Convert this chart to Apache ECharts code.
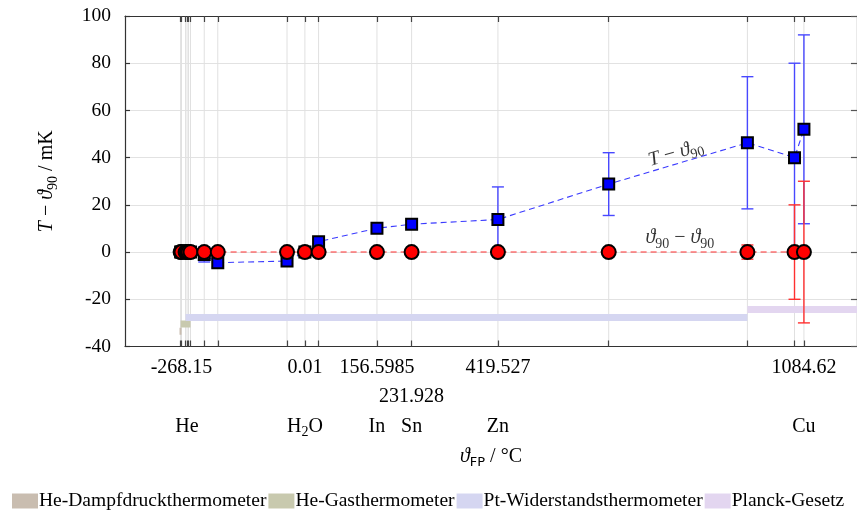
<!DOCTYPE html>
<html>
<head>
<meta charset="utf-8">
<script src="https://cdn.jsdelivr.net/npm/echarts@6/dist/echarts.min.js"></script>
<style>html,body{margin:0;padding:0;background:#fff}#c{width:857px;height:510px}</style>
</head>
<body>
<div id="c"></div>
<script>
// Fixed points (°C)
const fixedPoints = [-270.15, -268.15, -259.3467, -256.15, -252.85, -248.5939, -218.7916, -189.3442, -38.8344, 0.01, 29.7646, 156.5985, 231.928, 419.527, 660.323, 961.78, 1064.18, 1084.62];
// T - theta90 (mK) and uncertainty
const tDiff    = [0, 0, 0, 0, 0, 0, -1.0, -4.5, -3.8, 0, 4.4, 10.1, 11.8, 13.8, 28.8, 46.3, 40.0, 52.0];
const tDiffErr = [0.3, 0.3, 0.2, 0.3, 0.3, 0.5, 3.2, 2.0, 1.0, 0, 1.0, 1.2, 1.5, 13.8, 13.3, 28.0, 40.0, 40.0];
// theta90 - theta90 (mK) and uncertainty
const refDiff    = [0, 0, 0, 0, 0, 0, 0, 0, 0, 0, 0, 0, 0, 0, 0, 0, 0, 0];
const refErr     = [0, 0, 0, 0, 0, 0, 0, 0, 0, 0, 0, 0, 0, 0, 0, 3.0, 20.0, 30.0];
// tick labels
const row1Ticks = [-268.15, 0.01, 156.5985, 419.527, 1084.62];
const row1Text  = ['-268.15', '0.01', '156.5985', '419.527', '1084.62'];
const row2Ticks = [231.928];
const row2Text  = ['231.928'];
const elemPos   = [-256.2, 0.01, 156.5985, 231.928, 419.527, 1084.62];
const elemText  = ['{r|He}', '{r|H}{sub|2}{r|O}', '{r|In}', '{r|Sn}', '{r|Zn}', '{r|Cu}'];
// thermometer ranges
const bandNames = ['He-Dampfdruckthermometer', 'He-Gasthermometer', 'Pt-Widerstandsthermometer', 'Planck-Gesetz'];
const bandStart = [-272.5, -270.15, -259.3467, 961.78];
const bandEnd   = [-268.15, -248.5939, 961.78, 1200];
const bandLevel = [-33.5, -30.5, -27.7, -24.3];
const bandColors = ['#c9bdb0', '#c8c9ae', '#d5d6f1', '#e3d6f0'];
// annotations
const annotX = [808, 815];
const annotY = [40.7, 4.7];

const FONT = 'Liberation Serif';
const X_MIN = -391, X_MAX = 1200;

function lookup(vals, texts, v) {
  let best = 0, bd = Infinity;
  vals.forEach((x, i) => { const d = Math.abs(x - v); if (d < bd) { bd = d; best = i; } });
  return texts[best];
}

function errorBars(values, errs, color) {
  return {
    type: 'custom',
    silent: true,
    data: fixedPoints.map((x, i) => [x, values[i], errs[i]]),
    renderItem: function (params, api) {
      const x = api.value(0), y = api.value(1), e = api.value(2);
      if (!e) return null;
      const top = api.coord([x, y + e]);
      const bot = api.coord([x, y - e]);
      const hw = 6;
      const st = { stroke: color, lineWidth: 1.4 };
      return {
        type: 'group',
        children: [
          { type: 'line', shape: { x1: top[0], y1: top[1], x2: bot[0], y2: bot[1] }, style: st },
          { type: 'line', shape: { x1: top[0] - hw, y1: top[1], x2: top[0] + hw, y2: top[1] }, style: st },
          { type: 'line', shape: { x1: bot[0] - hw, y1: bot[1], x2: bot[0] + hw, y2: bot[1] }, style: st }
        ]
      };
    }
  };
}

const richBase = {
  r: { fontFamily: FONT, fontSize: 20, color: '#000', padding: [0, 0, 6, 0] },
  i: { fontFamily: FONT, fontSize: 20, fontStyle: 'italic', color: '#000', padding: [0, 0, 6, 0] },
  sub: { fontFamily: FONT, fontSize: 14, color: '#000', padding: [6, 0, 0, 0] },
  subsf: { fontFamily: 'DejaVu Sans', fontSize: 13, color: '#000', padding: [6, 0, 0, 0] }
};

const chart = echarts.init(document.getElementById('c'), null, { renderer: 'canvas' });

const series = [];
// vertical grid lines at fixed points
series.push({
  type: 'custom', silent: true, z: 0,
  data: fixedPoints.map(x => [x]),
  renderItem: function (params, api) {
    const p1 = api.coord([api.value(0), 100]);
    const p2 = api.coord([api.value(0), -40]);
    return { type: 'line', shape: { x1: p1[0], y1: p1[1], x2: p2[0], y2: p2[1] }, style: { stroke: '#e0e0e0', lineWidth: 1 } };
  }
});
// bands
bandNames.forEach((n, i) => {
  series.push({
    name: n, type: 'line', silent: true, z: 1,
    symbol: 'none',
    data: [[bandStart[i], bandLevel[i]], [bandEnd[i], bandLevel[i]]],
    lineStyle: { color: bandColors[i], width: 7, cap: 'butt' },
    itemStyle: { color: bandColors[i] }
  });
});
// blue line
series.push({
  name: 'T', type: 'line', z: 3,
  data: fixedPoints.map((x, i) => [x, tDiff[i]]),
  symbol: 'none',
  lineStyle: { color: '#3a3aff', width: 1.1, type: [6, 4] }
});
series.push(Object.assign(errorBars(tDiff, tDiffErr, '#4848ff'), { z: 4 }));
series.push({
  type: 'scatter', z: 5,
  data: fixedPoints.map((x, i) => [x, tDiff[i]]),
  symbol: 'rect', symbolSize: 11,
  itemStyle: { color: '#0000ff', borderColor: '#000', borderWidth: 2, opacity: 1 }
});
// red line
series.push({
  type: 'line', z: 6,
  data: fixedPoints.map((x, i) => [x, refDiff[i]]),
  symbol: 'none',
  lineStyle: { color: '#ff3030', width: 1.1, type: [6, 4] }
});
series.push(Object.assign(errorBars(refDiff, refErr, '#ff3030'), { z: 7 }));
series.push({
  type: 'scatter', z: 8,
  data: fixedPoints.map((x, i) => [x, refDiff[i]]),
  symbol: 'circle', symbolSize: 14,
  itemStyle: { color: '#ff0000', borderColor: '#000', borderWidth: 2, opacity: 1 }
});
// annotations
series.push({
  type: 'scatter', z: 9, silent: true,
  data: [[annotX[0], annotY[0]]],
  symbolSize: 0,
  label: { show: true, position: 'inside', rotate: 16, formatter: '{i|T}{r| − }{i|ϑ}{sub|90}', rich: richBase }
});
series.push({
  type: 'scatter', z: 9, silent: true,
  data: [[annotX[1], annotY[1]]],
  symbolSize: 0,
  label: { show: true, position: 'inside', formatter: '{i|ϑ}{sub|90}{r| − }{i|ϑ}{sub|90}', rich: richBase }
});

const tickStyle = { show: true, inside: true, length: 6, lineStyle: { color: '#444', width: 1.2 } };

const option = {
  animation: false,
  backgroundColor: '#fff',
  grid: { left: 125, right: 0, top: 16, bottom: 163.5, containLabel: false },
  legend: {
    data: bandNames.map(n => ({ name: n, icon: 'rect' })),
    left: 7, top: 486,
    itemWidth: 26, itemHeight: 15, itemGap: 2,
    textStyle: { fontFamily: FONT, fontSize: 19.5, color: '#000', padding: [0, 0, 0, -4] },
    selectedMode: false
  },
  xAxis: [
    {
      type: 'value', position: 'bottom', min: X_MIN, max: X_MAX,
      axisLine: { show: true, onZero: false, lineStyle: { color: '#333', width: 1.2 } },
      axisTick: Object.assign({ customValues: fixedPoints }, tickStyle),
      axisLabel: {
        customValues: row1Ticks, margin: 11,
        fontFamily: FONT, fontSize: 20, color: '#000',
        formatter: v => lookup(row1Ticks, row1Text, v)
      },
      splitLine: { show: false }
    },
    {
      type: 'value', position: 'bottom', min: X_MIN, max: X_MAX,
      axisLine: { show: false }, axisTick: { show: false },
      axisLabel: {
        customValues: row2Ticks, margin: 40,
        fontFamily: FONT, fontSize: 20, color: '#000',
        formatter: v => lookup(row2Ticks, row2Text, v)
      },
      splitLine: { show: false }
    },
    {
      type: 'value', position: 'bottom', min: X_MIN, max: X_MAX,
      axisLine: { show: false }, axisTick: { show: false },
      axisLabel: {
        customValues: elemPos, margin: 70,
        formatter: v => lookup(elemPos, elemText, v),
        rich: richBase
      },
      splitLine: { show: false },
      name: '{i|ϑ}{subsf|FP}{r| / °C}',
      nameLocation: 'middle', nameGap: 100,
      nameTextStyle: { rich: richBase }
    },
    {
      type: 'value', position: 'top', min: X_MIN, max: X_MAX,
      axisLine: { show: true, onZero: false, lineStyle: { color: '#333', width: 1.2 } },
      axisTick: Object.assign({ customValues: fixedPoints }, tickStyle),
      axisLabel: { show: false },
      splitLine: { show: false }
    }
  ],
  yAxis: [
    {
      type: 'value', min: -40, max: 100, interval: 20, position: 'left',
      axisLine: { show: true, onZero: false, lineStyle: { color: '#333', width: 1.2 } },
      axisTick: { show: true, inside: true, length: 5, lineStyle: { color: '#333', width: 1.2 } },
      axisLabel: { margin: 14, fontFamily: FONT, fontSize: 19.5, color: '#000', formatter: v => String(v) },
      splitLine: { show: true, lineStyle: { color: '#e2e2e2', width: 1 } },
      name: '{i|T}{r| − }{i|ϑ}{sub|90}{r| / mK}',
      nameLocation: 'middle', nameGap: 62, nameRotate: 90,
      nameTextStyle: { rich: richBase }
    },
    {
      type: 'value', min: -40, max: 100, interval: 20, position: 'right',
      axisLine: { show: true, onZero: false, lineStyle: { color: '#333', width: 1.2 } },
      axisTick: { show: true, inside: true, length: 6, lineStyle: { color: '#555', width: 1.2 } },
      axisLabel: { show: false },
      splitLine: { show: false }
    }
  ],
  series: series
};
chart.setOption(option);
</script>
</body>
</html>
